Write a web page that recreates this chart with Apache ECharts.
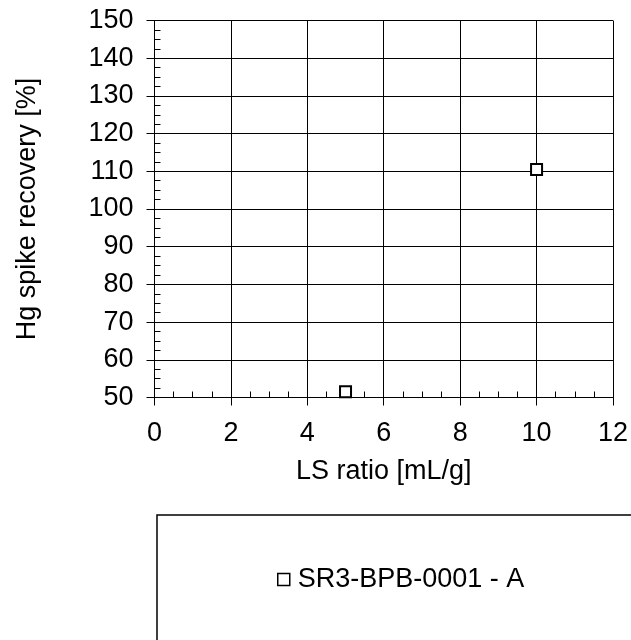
<!DOCTYPE html>
<html>
<head>
<meta charset="utf-8">
<script src="https://cdn.jsdelivr.net/npm/echarts@6/dist/echarts.min.js"></script>
<style>html,body{margin:0;padding:0;background:#fff}#c{width:631px;height:640px}</style>
</head>
<body>
<div id="c"></div>
<script>
var seriesName = 'SR3-BPB-0001 - A';
var lsRatio = [5, 10];
var hgRecovery = [51.5, 110.5];
var xTicks = [0, 2, 4, 6, 8, 10, 12];
var yTicks = [50, 60, 70, 80, 90, 100, 110, 120, 130, 140, 150];

var FONT = 'Liberation Sans, Arial, sans-serif';
var FS = 27;
var chart = echarts.init(document.getElementById('c'), null, {renderer: 'canvas'});
var points = lsRatio.map(function (x, i) { return [x, hgRecovery[i]]; });

chart.setOption({
  animation: false,
  backgroundColor: '#fff',
  grid: {left: 154.5, right: 17.5, top: 20.5, bottom: 242.5, containLabel: false},
  xAxis: [{
    type: 'value', min: xTicks[0], max: xTicks[xTicks.length - 1], interval: 2,
    position: 'bottom',
    name: 'LS ratio [mL/g]', nameLocation: 'middle', nameGap: 61,
    nameTextStyle: {fontFamily: FONT, fontSize: FS, color: '#000'},
    axisLine: {show: true, onZero: false, lineStyle: {color: '#000', width: 1}},
    axisTick: {show: true, inside: false, length: 8, lineStyle: {color: '#000'}},
    axisLabel: {margin: 23, fontFamily: FONT, fontSize: FS, color: '#000'},
    splitLine: {show: true, lineStyle: {color: '#000', width: 1}}
  }, {
    type: 'value', min: xTicks[0], max: xTicks[xTicks.length - 1], interval: 0.5,
    position: 'bottom', offset: 0,
    axisLine: {show: false},
    axisTick: {show: true, inside: true, length: 6, lineStyle: {color: '#000'}},
    axisLabel: {show: false},
    splitLine: {show: false}
  }],
  yAxis: [{
    type: 'value', min: yTicks[0], max: yTicks[yTicks.length - 1], interval: 10,
    position: 'left',
    name: 'Hg spike recovery [%]', nameLocation: 'middle', nameGap: 113,
    nameTextStyle: {fontFamily: FONT, fontSize: FS, color: '#000'},
    axisLine: {show: true, onZero: false, lineStyle: {color: '#000', width: 1}},
    axisTick: {show: true, inside: false, length: 8, lineStyle: {color: '#000'}},
    axisLabel: {margin: 21, fontFamily: FONT, fontSize: FS, color: '#000'},
    splitLine: {show: true, lineStyle: {color: '#000', width: 1}}
  }, {
    type: 'value', min: yTicks[0], max: yTicks[yTicks.length - 1], interval: 2.5,
    position: 'left', offset: 0,
    axisLine: {show: false},
    axisTick: {show: true, inside: true, length: 6, lineStyle: {color: '#000'}},
    axisLabel: {show: false},
    splitLine: {show: false}
  }],
  legend: {
    show: true, left: 272, top: 561, orient: 'horizontal',
    itemWidth: 12, itemHeight: 12, itemGap: 10,
    icon: 'rect',
    itemStyle: {color: '#fff', borderColor: '#000', borderWidth: 1.5},
    textStyle: {fontFamily: FONT, fontSize: FS, color: '#000', padding: [0, 0, 14, 3]},
    data: [seriesName]
  },
  graphic: [{
    type: 'rect', left: 154.5, top: 512.5, z: -1,
    shape: {width: 520, height: 200},
    style: {fill: 'none', stroke: '#000', lineWidth: 1.5}
  }],
  series: [{
    name: seriesName, type: 'scatter', xAxisIndex: 0, yAxisIndex: 0,
    symbol: 'rect', symbolSize: 11,
    itemStyle: {color: '#fff', borderColor: '#000', borderWidth: 2, opacity: 1},
    data: points
  }]
});
</script>
</body>
</html>
